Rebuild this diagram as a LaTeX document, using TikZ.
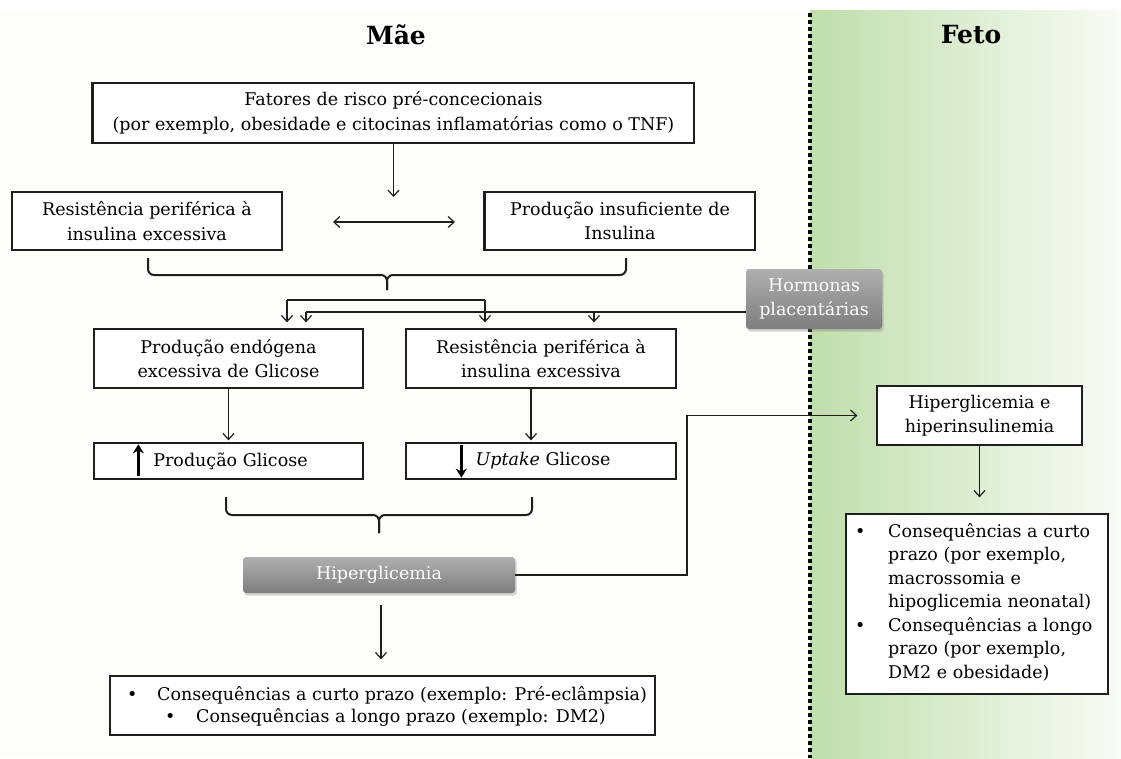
\documentclass[tikz,border=0pt]{standalone}
\usepackage{fontspec}
\setmainfont{DejaVu Serif}
\usetikzlibrary{arrows.meta,shadows,calc}
\definecolor{cream}{RGB}{253,253,250}
\definecolor{ink}{RGB}{30,30,30}
\definecolor{fgreen}{RGB}{192,222,172}
\definecolor{fwhite}{RGB}{248,251,246}
\definecolor{gtop}{RGB}{175,175,175}
\definecolor{gbot}{RGB}{125,125,125}
\newcommand\txtfont{\fontsize{17.5pt}{24.5pt}\selectfont}
\newcommand\headfont{\fontsize{25pt}{30pt}\selectfont\bfseries}
\begin{document}
\begin{tikzpicture}[x=1pt,y=-1pt,
  box/.style={draw=ink, line width=1.3pt, fill=white, inner sep=0pt, align=center, font=\txtfont},
  graybox/.style={draw=none, rounded corners=3pt, top color=gtop, bottom color=gbot, inner sep=0pt,
    align=center, font=\txtfont, text=white,
    drop shadow={opacity=0.35, shadow xshift=1.5pt, shadow yshift=-2.5pt}},
  txt/.style={inner sep=0pt, font=\txtfont, anchor=base west},
  head/.style={inner sep=0pt, font=\headfont},
  arr/.style={draw=ink, line width=1.2pt, -{Straight Barb[length=6pt,width=11pt]}},
  darr/.style={draw=ink, line width=1.2pt, {Straight Barb[length=6pt,width=11pt]}-{Straight Barb[length=6pt,width=11pt]}},
  plain/.style={draw=ink, line width=1.2pt},
  bracestyle/.style={draw=ink, line width=2pt, rounded corners=6pt},
  bigarr/.style={draw=black, line width=2.8pt, -{Stealth[length=9pt,width=11pt]}}
]
\useasboundingbox (0,0) rectangle (1121,758);
% background
\fill[white] (0,0) rectangle (1121,758);
\fill[cream] (0,10) rectangle (810,758);
\shade[left color=fgreen, right color=fwhite] (810,10) rectangle (1121,758);
\draw[black, line width=4pt, dash pattern=on 3.5pt off 3.5pt] (810,13) -- (810,758);

% headers
\node[head] (mae) at (396,35) {Mãe};
\node[head] (feto) at (971,35) {Feto};

% boxes
\node[box, minimum width=601pt, minimum height=60pt] (b1) at (393.5,113)
  {Fatores de risco pré-concecionais\\(por exemplo, obesidade e citocinas inflamatórias como o TNF)};
\draw[ink, line width=3pt] (b1.north west) -- (b1.south west);
\node[box, minimum width=270pt, minimum height=58pt] (res1) at (147,221)
  {Resistência periférica à\\insulina excessiva};
\node[box, minimum width=270pt, minimum height=58pt] (ins) at (620,221)
  {Produção insuficiente de\\Insulina};
\draw[ink, line width=3pt] (ins.north west) -- (ins.south west);

\node[box, minimum width=269pt, minimum height=59pt] (endo) at (228.5,358.5)
  {Produção endógena\\excessiva de Glicose};
\node[box, minimum width=270pt, minimum height=59pt] (res2) at (541,358.5)
  {Resistência periférica à\\insulina excessiva};
\node[box, minimum width=269pt, minimum height=36pt] (pg) at (228.5,461)
  {\hspace*{4pt}Produção Glicose};
\node[box, minimum width=270pt, minimum height=36pt] (ug) at (541,461)
  {\hspace*{4pt}\textit{Uptake} Glicose};
\draw[bigarr] ($(pg.south west)+(45,-4)$) -- ($(pg.north west)+(45,2)$);
\draw[bigarr] ($(ug.north west)+(56,3)$) -- ($(ug.south west)+(56,-2)$);

\node[graybox, minimum width=136pt, minimum height=60pt] (hor) at (814,299)
  {Hormonas\\placentárias};
\node[graybox, minimum width=272pt, minimum height=36pt] (hip) at (379,575)
  {Hiperglicemia};

\node[box, minimum width=545pt, minimum height=59pt] (cons) at (382.5,705.5) {};
\node[txt] (cb1) at (127,700) {•};
\node[txt] (ct1) at (157,700) {Consequências a curto prazo (exemplo: Pré-eclâmpsia)};
\node[txt] (cb2) at (165,722) {•};
\node[txt] (ct2) at (196,722) {Consequências a longo prazo (exemplo: DM2)};

\node[box, minimum width=205pt, minimum height=59pt] (hh) at (979.5,415.5)
  {Hiperglicemia e\\hiperinsulinemia};
\node[box, minimum width=262pt, minimum height=180pt] (cf) at (977,604) {};
\node[txt] (fb1) at (855,537) {•};
\node[txt] (f1) at (888,537) {Consequências a curto};
\node[txt] (f2) at (888,560.5) {prazo (por exemplo,};
\node[txt] (f3) at (888,584) {macrossomia e};
\node[txt] (f4) at (888,607.5) {hipoglicemia neonatal)};
\node[txt] (fb2) at (855,631) {•};
\node[txt] (f5) at (888,631) {Consequências a longo};
\node[txt] (f6) at (888,654.5) {prazo (por exemplo,};
\node[txt] (f7) at (888,678) {DM2 e obesidade)};

% coordinates
\coordinate (c1) at (393.5,197);
\coordinate (da1) at (333,222);
\coordinate (da2) at (455,222);
\coordinate (l1a) at (287,300);
\coordinate (l1b) at (485,300);
\coordinate (l2a) at (306,312);
\coordinate (l2b) at (594,312);
\coordinate (k1) at (687,0);

% connectors
\draw[arr] (b1.south) -- (c1);
\draw[darr] (da1) -- (da2);
\draw[bracestyle] (148,258) |- (387,275) -- (387,290);
\draw[bracestyle] (626,258) |- (387,275) -- (387,290);
\draw[plain] (l1a) -- (l1b);
\draw[arr, shorten >=6pt] (l1a) -- (l1a |- endo.north);
\draw[arr, shorten >=6pt] (l1b) -- (l1b |- res2.north);
\draw[plain] ([yshift=-13pt]hor.west) -- (l2a);
\draw[arr, shorten >=6pt] (l2a) -- (l2a |- endo.north);
\draw[arr, shorten >=6pt] (l2b) -- (l2b |- res2.north);
\draw[arr, shorten >=2pt] (endo.south) -- (pg.north);
\draw[arr, shorten >=2pt] ([xshift=-10pt]res2.south) -- ([xshift=-10pt]ug.north);
\draw[bracestyle] (226,497) |- (379,515) -- (379,533);
\draw[bracestyle] (532,497) |- (379,515) -- (379,533);
\draw[arr, shorten <=12pt, shorten >=16pt] ([xshift=2pt]hip.south) -- ([xshift=2pt]hip.south |- cons.north);
\draw[arr, shorten >=19pt] (hip.east) -- (hip.east -| k1) -- (k1 |- hh.west) -- (hh.west);
\draw[arr, shorten >=16pt] (hh.south) -- (hh.south |- cf.north);
\end{tikzpicture}
\end{document}
